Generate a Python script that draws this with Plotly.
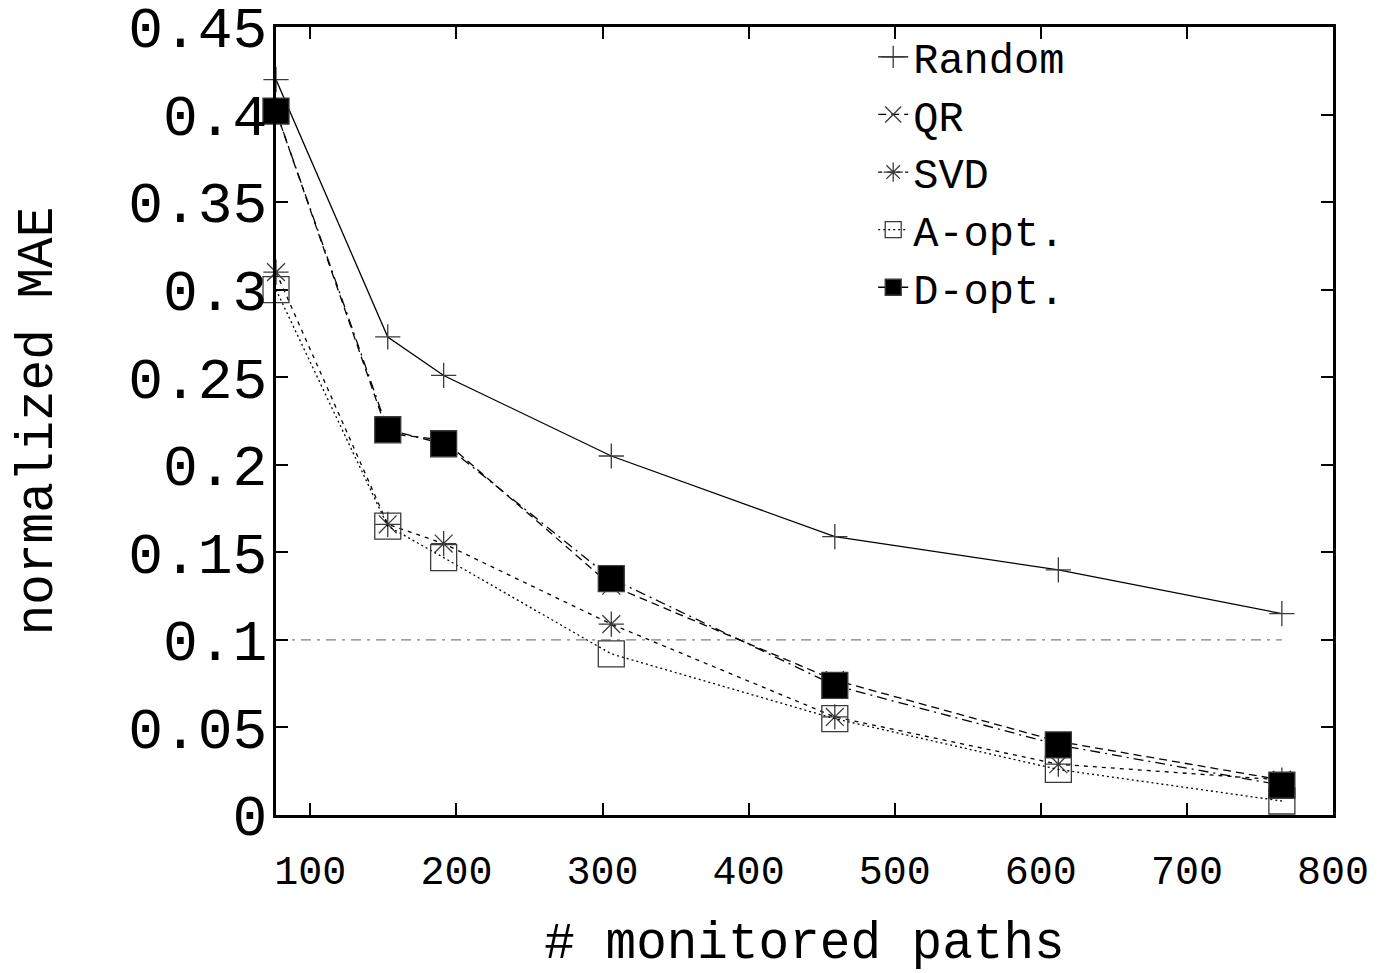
import plotly.graph_objects as go

# ---- data ----
paths = [76.5, 153, 191.25, 306, 459, 612, 765]
random_mae = [0.420, 0.273, 0.251, 0.205, 0.159, 0.140, 0.115]
qr_mae = [0.402, 0.218, 0.214, 0.131, 0.077, 0.042, 0.020]
svd_mae = [0.310, 0.166, 0.155, 0.109, 0.056, 0.029, 0.020]
aopt_mae = [0.300, 0.165, 0.147, 0.092, 0.055, 0.026, 0.008]
dopt_mae = [0.402, 0.220, 0.212, 0.135, 0.074, 0.040, 0.017]
threshold_x = [76.5, 765]
threshold_y = [0.1, 0.1]

x_ticks = [100, 200, 300, 400, 500, 600, 700, 800]
y_ticks = [0, 0.05, 0.1, 0.15, 0.2, 0.25, 0.3, 0.35, 0.4, 0.45]

FONT = "Liberation Mono"
MARK = "#3a3a3a"

series = [
    ("Random", random_mae, "solid", "cross-thin-open", 18),
    ("QR", qr_mae, "8px,5px", "x-thin-open", 18),
    ("SVD", svd_mae, "4px,5px", "asterisk-open", 21),
    ("A-opt.", aopt_mae, "2px,3px", "square-open", 26),
    ("D-opt.", dopt_mae, "10px,5px,2px,5px", "square", 26),
]

fig = go.Figure()

fig.add_trace(go.Scatter(
    x=threshold_x, y=threshold_y, mode="lines",
    line=dict(color="#808080", width=1.3, dash="10px,6px,3px,6px"),
    showlegend=False, hoverinfo="skip",
))

for name, vals, dash, sym, size in series:
    filled = sym == "square"
    fig.add_trace(go.Scatter(
        x=paths, y=vals, name=name, mode="lines+markers",
        cliponaxis=False,
        line=dict(color="#000000", width=1.3, dash=dash),
        marker=dict(symbol=sym, size=size,
                    color="#000000" if filled else MARK,
                    line=dict(color=MARK, width=1.3)),
    ))

fig.update_layout(
    width=1395, height=973,
    margin=dict(l=276, r=62, t=27, b=158, autoexpand=False),
    paper_bgcolor="white", plot_bgcolor="white",
    font=dict(family=FONT, color="black"),
    legend=dict(
        x=0.565, y=1.005, xanchor="left", yanchor="top",
        font=dict(family=FONT, size=42, color="black"),
        bgcolor="rgba(0,0,0,0)", borderwidth=0,
    ),
)

fig.update_xaxes(
    range=[76.5, 800], tickvals=x_ticks, automargin=False,
    ticklabeloverflow="allow",
    ticks="inside", ticklen=12, tickwidth=2, tickcolor="black",
    showline=True, linewidth=3, linecolor="black", mirror="allticks",
    showgrid=False, zeroline=False,
    tickfont=dict(family=FONT, size=40),
    ticklabelstandoff=18,
    title=dict(text="# monitored paths", font=dict(family=FONT, size=51), standoff=30),
)
fig.update_yaxes(
    range=[0, 0.45], tickvals=y_ticks, automargin=False,
    ticklabeloverflow="allow",
    ticks="inside", ticklen=12, tickwidth=2, tickcolor="black",
    showline=True, linewidth=3, linecolor="black", mirror="allticks",
    showgrid=False, zeroline=False,
    tickfont=dict(family=FONT, size=58),
    ticklabelstandoff=-6,
    title=dict(text="normalized MAE", font=dict(family=FONT, size=51), standoff=60),
)

fig.write_html("out.html")
